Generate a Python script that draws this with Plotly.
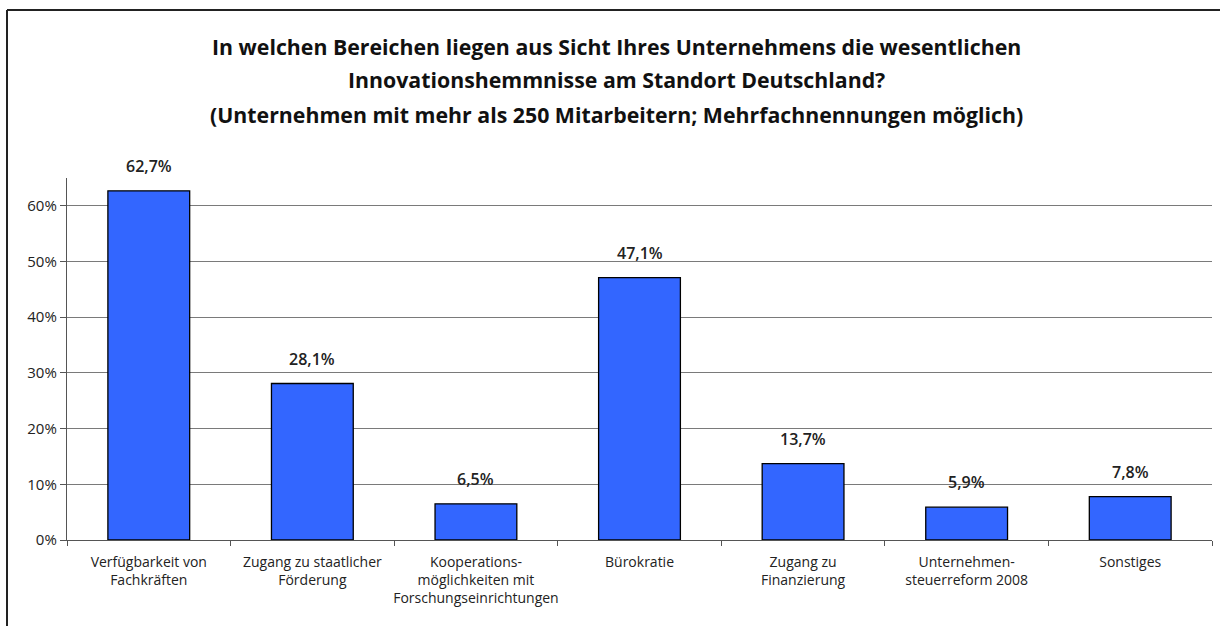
import plotly.graph_objects as go

categories = [
    "Verfügbarkeit von<br>Fachkräften",
    "Zugang zu staatlicher<br>Förderung",
    "Kooperations-<br>möglichkeiten mit<br>Forschungseinrichtungen",
    "Bürokratie",
    "Zugang zu<br>Finanzierung",
    "Unternehmen-<br>steuerreform 2008",
    "Sonstiges",
]
values = [62.7, 28.1, 6.5, 47.1, 13.7, 5.9, 7.8]
tick_vals = [0, 10, 20, 30, 40, 50, 60]
tick_text = ["0%", "10%", "20%", "30%", "40%", "50%", "60%"]
title_lines = [
    "In welchen Bereichen liegen aus Sicht Ihres Unternehmens die wesentlichen",
    "Innovationshemmnisse am Standort Deutschland?",
    "(Unternehmen mit mehr als 250 Mitarbeitern; Mehrfachnennungen möglich)",
]

W, H = 1220, 626
L, R, T, B = 67, 8, 178, 86
pw, ph = W - L - R, H - T - B

FONT = "Open Sans"


def px(xp):
    return (xp - L) / pw


def py_(yp):
    return (H - B - yp) / ph


fig = go.Figure()
fig.add_trace(go.Bar(
    x=categories, y=values, width=0.5,
    marker=dict(color="#3366FF", line=dict(color="#000000", width=1.3)),
    hoverinfo="skip",
))

annotations = []
for c, v in zip(categories, values):
    annotations.append(dict(
        x=c, y=v, xref="x", yref="y", text=("%.1f%%" % v).replace(".", ","),
        showarrow=False, yanchor="bottom", yshift=12,
        font=dict(family=FONT, size=16, color="#222", weight=600),
    ))

title_y = [46, 80, 114]
for t, yy in zip(title_lines, title_y):
    annotations.append(dict(
        x=px(616), y=py_(yy), xref="paper", yref="paper", text=t,
        showarrow=False, xanchor="center", yanchor="middle",
        font=dict(family=FONT, size=21.3, color="#111", weight=700),
    ))

shapes = [
    dict(type="line", xref="paper", yref="paper", x0=px(7), x1=px(7), y0=py_(10), y1=py_(626),
         line=dict(color="#222", width=2)),
    dict(type="line", xref="paper", yref="paper", x0=px(7), x1=px(1220), y0=py_(10), y1=py_(10),
         line=dict(color="#222", width=2)),
]

fig.update_layout(
    width=W, height=H,
    margin=dict(l=L, r=R, t=T, b=B, autoexpand=False),
    paper_bgcolor="white", plot_bgcolor="white",
    showlegend=False,
    annotations=annotations,
    shapes=shapes,
    xaxis=dict(
        showline=True, linecolor="#555", linewidth=1.3,
        ticks="outside", tickson="boundaries", ticklen=5, tickcolor="#555",
        tickfont=dict(family=FONT, size=14, color="#222"),
        tickangle=0, automargin=False, ticklabelstandoff=9,
        showgrid=False,
    ),
    yaxis=dict(
        range=[0, 65], tickvals=tick_vals, ticktext=tick_text,
        showline=True, linecolor="#555", linewidth=1.3,
        ticks="outside", ticklen=6, tickcolor="#555",
        tickfont=dict(family=FONT, size=15, color="#222"),
        automargin=False,
        showgrid=True, gridcolor="#7a7a7a", gridwidth=1,
        zeroline=False,
    ),
)

fig.write_html(
    "out.html", config={"displayModeBar": False},
    post_script="document.body.style.margin='0';document.body.style.overflow='hidden';"
                "document.documentElement.style.overflow='hidden';",
)
